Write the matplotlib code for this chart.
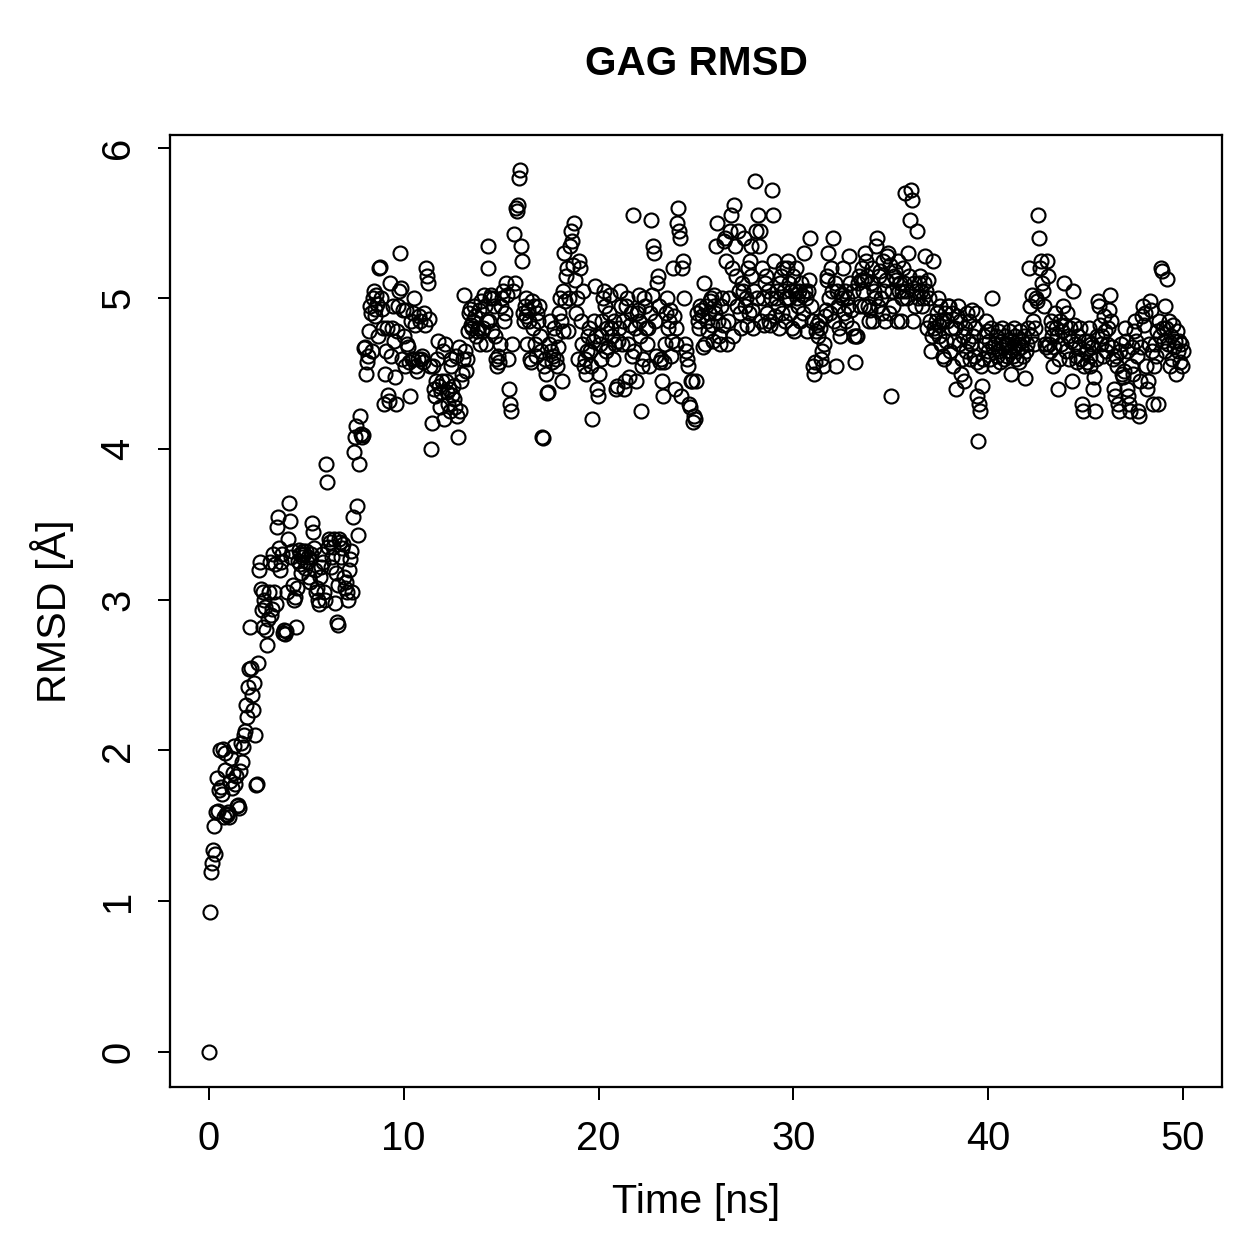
import numpy as np
from matplotlib import pyplot as plt

plt.rcParams.update({'font.family': 'Liberation Sans', 'font.size': 16})

# RMSD per frame (Angstrom), one row per ns, 20 frames each
rmsd_0_9 = [
    0.00, 0.93, 1.19, 1.25, 1.34, 1.50, 1.31, 1.59, 1.82, 1.60, 1.74, 2.00, 1.76, 1.71, 2.01, 1.56, 1.87, 1.98, 1.58, 1.57,
    1.59, 1.56, 1.80, 1.95, 1.75, 1.85, 2.03, 1.78, 1.83, 1.63, 1.64, 1.62, 1.86, 2.05, 1.92, 2.02, 2.10, 2.13, 2.30, 2.22,
    2.42, 2.54, 2.82, 2.55, 2.37, 2.27, 2.45, 2.10, 1.77, 1.78, 2.58, 3.20, 3.25, 3.07, 2.93, 2.82, 3.05, 3.00, 2.95, 2.80,
    2.70, 2.87, 3.05, 3.25, 2.90, 2.94, 3.30, 3.05, 3.24, 2.97, 3.48, 3.55, 3.34, 3.20, 3.25, 3.30, 2.78, 2.80, 2.77, 2.79,
    3.05, 3.40, 3.64, 3.52, 3.28, 3.32, 3.10, 3.00, 3.02, 2.82, 3.08, 3.26, 3.33, 3.30, 3.24, 3.18, 3.28, 3.32, 3.30, 3.21,
    3.32, 3.25, 3.28, 3.15, 3.12, 3.30, 3.51, 3.45, 3.34, 3.20, 3.05, 3.08, 3.00, 2.97, 3.15, 3.22, 3.30, 3.25, 3.05, 3.00,
    3.90, 3.78, 3.35, 3.40, 3.38, 3.22, 3.28, 3.35, 3.40, 2.98, 3.18, 2.85, 2.83, 3.10, 3.40, 3.38, 3.28, 3.34, 3.37, 3.15,
    3.08, 3.12, 3.05, 3.00, 3.20, 3.27, 3.32, 3.05, 3.55, 3.98, 4.08, 4.15, 3.62, 3.43, 3.90, 4.22, 4.10, 4.08, 4.09, 4.67,
    4.68, 4.50, 4.58, 4.62, 4.78, 4.95, 4.90, 4.65, 5.00, 5.05, 4.88, 4.93, 5.02, 4.96, 4.75, 5.20, 5.21, 5.00, 4.93, 4.80,
    4.30, 4.50, 4.65, 4.80, 4.36, 4.32, 5.10, 4.62, 4.80, 4.95, 4.72, 4.48, 4.30, 4.78, 4.95, 5.05, 5.30, 5.07, 4.60, 4.92,
]
rmsd_10_19 = [
    4.75, 4.55, 4.92, 4.70, 4.68, 4.58, 4.35, 4.85, 4.60, 4.60, 4.90, 5.00, 4.82, 4.55, 4.52, 4.60, 4.88, 4.85, 4.60, 4.62,
    4.58, 4.90, 4.82, 5.20, 5.15, 5.10, 4.86, 4.55, 4.00, 4.17, 4.55, 4.40, 4.35, 4.45, 4.60, 4.72, 4.42, 4.28, 4.38, 4.45,
    4.65, 4.20, 4.70, 4.45, 4.38, 4.30, 4.40, 4.25, 4.55, 4.60, 4.36, 4.42, 4.33, 4.28, 4.62, 4.22, 4.08, 4.68, 4.25, 4.45,
    4.50, 4.60, 5.02, 4.65, 4.52, 4.60, 4.78, 4.90, 4.93, 4.82, 4.80, 4.85, 4.95, 4.88, 4.75, 4.78, 4.80, 4.92, 4.70, 4.98,
    4.78, 4.80, 5.02, 4.95, 4.70, 4.85, 5.35, 5.20, 4.85, 5.00, 5.02, 4.78, 5.00, 4.95, 4.75, 4.60, 4.55, 4.62, 4.58, 4.70,
    4.95, 5.00, 5.05, 4.85, 4.90, 5.10, 5.02, 4.60, 4.40, 4.30, 4.25, 4.70, 5.05, 5.43, 5.10, 5.60, 5.58, 5.62, 5.80, 5.85,
    5.35, 5.25, 4.90, 4.85, 4.95, 5.00, 4.88, 4.70, 4.92, 4.85, 4.60, 4.58, 4.98, 4.80, 4.95, 4.70, 4.62, 4.90, 4.85, 4.95,
    4.75, 4.65, 4.08, 4.07, 4.55, 4.60, 4.50, 4.37, 4.38, 4.70, 4.85, 4.65, 4.58, 4.62, 4.80, 4.75, 4.60, 4.55, 4.68, 4.90,
    5.00, 4.85, 4.45, 4.78, 5.05, 5.30, 4.98, 5.15, 5.20, 4.78, 5.00, 5.35, 5.45, 5.38, 5.22, 5.50, 5.12, 4.90, 5.00, 4.60,
    5.25, 5.20, 4.85, 4.70, 5.05, 4.55, 4.60, 4.50, 4.65, 4.75, 4.80, 4.65, 4.55, 4.20, 4.72, 4.85, 5.08, 4.75, 4.40, 4.35,
]
rmsd_20_29 = [
    4.50, 4.70, 4.60, 4.75, 4.85, 5.00, 5.05, 4.95, 4.65, 4.80, 4.68, 4.90, 5.02, 4.80, 4.75, 4.60, 4.85, 4.70, 4.40, 4.42,
    4.72, 4.80, 5.05, 4.95, 4.70, 4.85, 4.40, 4.45, 4.95, 5.00, 4.70, 4.48, 4.82, 4.90, 4.62, 5.55, 4.65, 4.80, 4.45, 4.90,
    4.92, 5.02, 4.85, 4.75, 4.25, 4.55, 4.60, 5.00, 4.95, 4.80, 4.70, 4.80, 4.55, 4.90, 5.52, 5.02, 5.35, 5.30, 4.85, 4.62,
    5.10, 5.15, 4.95, 4.58, 4.60, 4.45, 4.35, 4.58, 4.70, 4.90, 5.00, 4.80, 4.85, 4.92, 4.62, 4.72, 5.20, 4.88, 4.40, 4.70,
    4.80, 5.50, 5.60, 5.45, 5.40, 4.35, 5.20, 5.25, 5.00, 4.70, 4.65, 4.60, 4.55, 4.30, 4.28, 4.45, 4.45, 4.18, 4.22, 4.20,
    4.45, 4.90, 4.85, 4.80, 4.95, 4.92, 4.88, 4.68, 5.10, 4.70, 4.95, 4.85, 4.78, 4.90, 4.98, 5.00, 4.82, 4.72, 5.02, 4.95,
    4.90, 5.35, 5.50, 4.85, 4.75, 4.70, 4.95, 5.00, 4.82, 5.38, 5.40, 5.25, 4.70, 4.85, 5.00, 5.45, 5.55, 5.20, 4.75, 5.62,
    5.35, 5.15, 4.95, 5.45, 5.05, 4.90, 4.80, 5.10, 5.05, 5.40, 4.95, 5.00, 4.82, 5.20, 4.90, 5.25, 5.35, 5.15, 4.92, 4.80,
    5.05, 5.78, 5.45, 5.00, 5.55, 5.35, 5.45, 4.85, 5.20, 5.00, 4.82, 5.10, 5.15, 4.90, 5.05, 4.85, 4.82, 5.00, 5.72, 5.55,
    5.25, 4.88, 5.00, 5.05, 4.95, 4.80, 5.10, 5.15, 4.90, 5.20, 5.05, 4.85, 5.00, 5.20, 5.25, 5.10, 5.00, 4.90, 5.05, 4.80,
]
rmsd_30_39 = [
    5.15, 4.78, 5.05, 5.20, 5.00, 4.95, 5.05, 4.85, 5.10, 5.02, 4.90, 5.30, 5.05, 5.00, 4.78, 5.05, 5.12, 5.40, 4.95, 4.85,
    4.55, 4.50, 4.58, 4.78, 4.82, 4.75, 4.85, 4.80, 4.60, 4.65, 4.55, 4.70, 4.88, 4.92, 5.15, 5.12, 5.30, 5.00, 4.90, 5.20,
    5.05, 5.40, 4.85, 5.10, 4.55, 5.05, 4.95, 4.80, 4.75, 5.02, 5.00, 5.20, 4.90, 5.05, 4.85, 5.00, 4.95, 5.28, 5.10, 4.92,
    4.80, 5.05, 4.75, 4.58, 4.75, 4.75, 5.10, 5.15, 4.95, 5.12, 5.20, 5.05, 5.12, 4.95, 5.30, 5.25, 5.15, 4.95, 4.85, 4.92,
    5.10, 5.20, 4.85, 5.05, 5.00, 5.35, 5.40, 4.95, 5.15, 5.18, 5.00, 4.90, 5.25, 5.05, 4.85, 5.12, 5.28, 5.30, 4.90, 5.22,
    4.35, 5.05, 4.95, 5.15, 5.18, 5.12, 4.85, 5.25, 5.05, 5.10, 4.85, 5.00, 5.05, 5.20, 5.10, 5.70, 5.05, 5.00, 5.30, 5.15,
    5.52, 5.72, 5.65, 4.85, 5.10, 4.95, 5.05, 5.45, 5.00, 5.10, 5.15, 5.05, 4.95, 5.00, 5.10, 5.28, 5.05, 4.80, 5.12, 5.00,
    4.85, 4.65, 4.75, 5.25, 4.80, 4.78, 4.85, 4.90, 5.00, 4.75, 4.82, 4.95, 4.70, 4.85, 4.62, 4.60, 4.90, 4.72, 4.85, 4.95,
    4.95, 4.65, 4.80, 4.90, 4.55, 4.72, 4.80, 4.40, 4.88, 4.95, 4.70, 4.85, 4.50, 4.60, 4.75, 4.45, 4.80, 4.65, 4.90, 4.72,
    4.85, 4.60, 4.70, 4.92, 4.75, 4.62, 4.80, 4.90, 4.58, 4.35, 4.05, 4.30, 4.25, 4.55, 4.42, 4.60, 4.75, 4.70, 4.85, 4.78,
]
rmsd_40_50 = [
    4.65, 4.72, 4.60, 4.80, 5.00, 4.68, 4.55, 4.70, 4.75, 4.62, 4.78, 4.65, 4.58, 4.72, 4.80, 4.68, 4.60, 4.75, 4.70, 4.62,
    4.70, 4.78, 4.65, 4.50, 4.72, 4.62, 4.80, 4.68, 4.75, 4.60, 4.65, 4.70, 4.58, 4.78, 4.68, 4.72, 4.62, 4.75, 4.47, 4.65,
    4.70, 4.80, 5.20, 4.95, 4.75, 5.02, 4.85, 4.70, 4.80, 5.00, 4.98, 5.55, 5.40, 5.20, 5.25, 5.10, 5.05, 4.95, 4.70, 4.68,
    5.25, 5.15, 4.70, 4.65, 4.85, 4.80, 4.75, 4.55, 4.68, 4.90, 4.80, 4.75, 4.40, 4.60, 4.85, 4.70, 4.78, 4.95, 5.10, 4.82,
    4.65, 4.90, 4.75, 4.60, 4.80, 4.72, 4.45, 5.05, 4.82, 4.70, 4.62, 4.58, 4.75, 4.68, 4.80, 4.60, 4.30, 4.25, 4.55, 4.72,
    4.65, 4.58, 4.72, 4.80, 4.62, 4.55, 4.70, 4.68, 4.40, 4.48, 4.25, 4.60, 4.75, 4.98, 4.95, 4.82, 4.70, 4.75, 4.62, 4.88,
    4.78, 4.65, 4.70, 4.80, 4.92, 5.02, 4.85, 4.68, 4.60, 4.40, 4.35, 4.62, 4.55, 4.30, 4.25, 4.65, 4.70, 4.50, 4.48, 4.52,
    4.80, 4.72, 4.65, 4.40, 4.35, 4.30, 4.25, 4.55, 4.68, 4.50, 4.78, 4.85, 4.72, 4.62, 4.25, 4.22, 4.45, 4.68, 4.88, 4.95,
    4.82, 4.90, 4.55, 4.40, 4.45, 4.70, 4.98, 4.92, 4.65, 4.30, 4.55, 4.70, 4.62, 4.78, 4.30, 4.85, 4.75, 5.20, 5.18, 4.80,
    4.72, 4.95, 4.65, 4.80, 5.13, 4.70, 4.85, 4.55, 4.75, 4.60, 4.82, 4.68, 4.72, 4.50, 4.78, 4.65, 4.72, 4.58, 4.70, 4.55,
    4.65,
]

rmsd = np.array(rmsd_0_9 + rmsd_10_19 + rmsd_20_29 + rmsd_30_39 + rmsd_40_50)
# frames every 0.05 ns from 0 to 50 ns
time = np.linspace(0, 50, len(rmsd))

fig = plt.figure(figsize=(1259/180, 1259/180), dpi=180)
ax = fig.add_axes([0.135, 0.1366, 0.8356, 0.7562])

ax.plot(time, rmsd, linestyle='none', marker='o', markersize=5.6,
        markerfacecolor='none', markeredgecolor='black', markeredgewidth=0.85)

ax.set_xlim(-2, 52)
ax.set_ylim(-0.234, 6.084)
ax.set_xticks([0, 10, 20, 30, 40, 50])
ax.set_yticks([0, 1, 2, 3, 4, 5, 6])
ax.tick_params(direction='out', length=5, width=0.8, pad=8, labelsize=16)
for lab in ax.get_yticklabels():
    lab.set_rotation(90)
    lab.set_va('center')
for s in ax.spines.values():
    s.set_linewidth(0.9)

ax.set_xlabel('Time [ns]', fontsize=16.5, labelpad=10)
ax.set_ylabel('RMSD [Å]', fontsize=16.5, labelpad=10)
ax.set_title('GAG RMSD', fontweight='bold', fontsize=16.2, pad=24)

fig.savefig('out.png', dpi=180)
